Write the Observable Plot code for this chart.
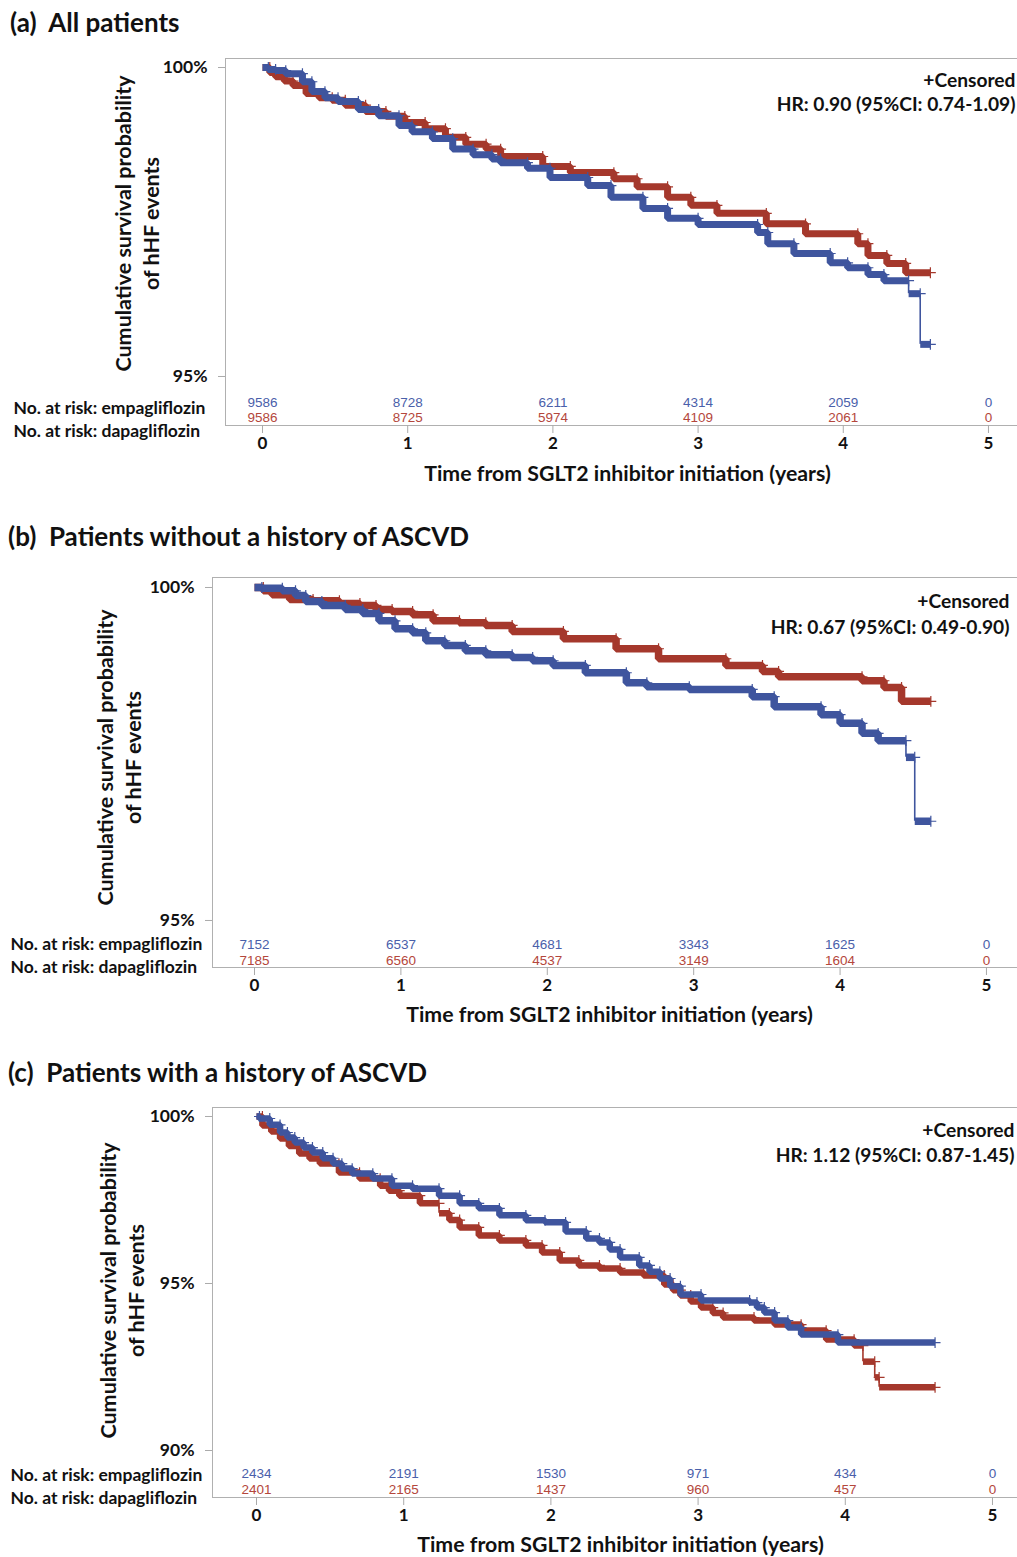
<!DOCTYPE html>
<html><head><meta charset="utf-8">
<script src="https://cdn.jsdelivr.net/npm/d3@7"></script>
<script src="https://cdn.jsdelivr.net/npm/@observablehq/plot@0.6"></script>
<style>
body{margin:0;background:#fff;width:1017px;font-family:Lato,"Open Sans",sans-serif;color:#111;}
.title{height:44px;line-height:44px;font-weight:700;font-size:26px;white-space:pre;}
svg{display:block;}
g[aria-label="x-axis tick"], g[aria-label="y-axis tick"]{stroke:#aaa;}
</style></head><body>
<div class="title" style="padding-left:10px">(a)  All patients</div><div id="a"></div>
<div class="title" style="padding-left:8px">(b)  Patients without a history of ASCVD</div><div id="b"></div>
<div class="title" style="padding-left:8px">(c)  Patients with a history of ASCVD</div><div id="c"></div>
<script>
// ---------- data ----------
const years = [0, 1, 2, 3, 4, 5];
const drugs = ["empagliflozin", "dapagliflozin"];
const yTicksA = [95, 100];
const yTicksB = [95, 100];
const yTicksC = [90, 95, 100];
const yTitle = "Cumulative survival probability\nof hHF events";
const xTitle = "Time from SGLT2 inhibitor initiation (years)";

// (a) All patients
const aEmpaT = [0, 0.04, 0.09, 0.16, 0.275, 0.34, 0.43, 0.52, 0.66, 0.80, 0.94, 1.03, 1.17, 1.31, 1.45, 1.58, 1.64, 1.825, 1.98, 2.24, 2.40, 2.62, 2.79, 3.00, 3.41, 3.48, 3.66, 3.91, 4.03, 4.17, 4.28, 4.45, 4.53, 4.60];
const aEmpaS = [100, 99.97, 99.95, 99.90, 99.77, 99.61, 99.51, 99.45, 99.32, 99.22, 99.06, 98.96, 98.85, 98.68, 98.59, 98.52, 98.46, 98.37, 98.22, 98.09, 97.90, 97.72, 97.56, 97.46, 97.33, 97.15, 96.99, 96.84, 96.76, 96.65, 96.55, 96.34, 95.52, 95.52];
const aDapaT = [0, 0.05, 0.09, 0.15, 0.21, 0.30, 0.39, 0.48, 0.57, 0.71, 0.85, 0.98, 1.12, 1.26, 1.40, 1.54, 1.64, 1.93, 2.12, 2.42, 2.58, 2.79, 2.95, 3.13, 3.47, 3.74, 4.10, 4.17, 4.30, 4.43, 4.60];
const aDapaS = [100, 99.92, 99.85, 99.78, 99.71, 99.58, 99.51, 99.47, 99.39, 99.29, 99.21, 99.11, 99.01, 98.87, 98.76, 98.68, 98.56, 98.40, 98.30, 98.20, 98.07, 97.90, 97.77, 97.64, 97.47, 97.31, 97.15, 96.96, 96.83, 96.68, 96.68];
const aRiskEmpa = [9586, 8728, 6211, 4314, 2059, 0];
const aRiskDapa = [9586, 8725, 5974, 4109, 2061, 0];
const aHR = "HR: 0.90 (95%CI: 0.74-1.09)";

// (b) Without ASCVD
const bEmpaT = [0, 0.05, 0.19, 0.28, 0.35, 0.46, 0.62, 0.74, 0.85, 0.96, 1.08, 1.17, 1.30, 1.44, 1.58, 1.76, 1.90, 2.04, 2.26, 2.54, 2.68, 2.97, 3.40, 3.55, 3.87, 4.00, 4.15, 4.26, 4.45, 4.51, 4.62];
const bEmpaS = [100, 99.99, 99.95, 99.88, 99.79, 99.73, 99.67, 99.61, 99.50, 99.38, 99.32, 99.20, 99.13, 99.05, 98.99, 98.95, 98.90, 98.83, 98.72, 98.57, 98.51, 98.47, 98.36, 98.21, 98.09, 97.96, 97.81, 97.70, 97.45, 96.49, 96.49];
const bDapaT = [0, 0.06, 0.12, 0.24, 0.40, 0.58, 0.72, 0.83, 0.94, 1.08, 1.22, 1.40, 1.58, 1.76, 2.11, 2.47, 2.76, 3.22, 3.47, 3.58, 4.15, 4.30, 4.42, 4.62];
const bDapaS = [100, 99.95, 99.89, 99.82, 99.80, 99.76, 99.73, 99.67, 99.64, 99.59, 99.50, 99.47, 99.43, 99.34, 99.23, 99.08, 98.93, 98.83, 98.74, 98.66, 98.60, 98.50, 98.29, 98.29];
const bRiskEmpa = [7152, 6537, 4681, 3343, 1625, 0];
const bRiskDapa = [7185, 6560, 4537, 3149, 1604, 0];
const bHR = "HR: 0.67 (95%CI: 0.49-0.90)";

// (c) With ASCVD
const cEmpaT = [0, 0.02, 0.09, 0.16, 0.21, 0.26, 0.32, 0.38, 0.45, 0.52, 0.58, 0.65, 0.79, 0.92, 1.06, 1.24, 1.38, 1.51, 1.65, 1.83, 1.96, 2.10, 2.24, 2.33, 2.40, 2.47, 2.60, 2.67, 2.74, 2.81, 2.88, 3.02, 3.35, 3.40, 3.45, 3.52, 3.61, 3.70, 3.95, 4.61];
const cEmpaS = [100, 99.94, 99.75, 99.52, 99.37, 99.22, 99.07, 98.92, 98.75, 98.59, 98.44, 98.29, 98.14, 97.93, 97.84, 97.63, 97.40, 97.25, 97.04, 96.89, 96.83, 96.56, 96.35, 96.23, 96.02, 95.78, 95.54, 95.35, 95.15, 94.92, 94.67, 94.49, 94.43, 94.28, 94.13, 93.89, 93.68, 93.47, 93.23, 93.23];
const cDapaT = [0, 0.04, 0.10, 0.16, 0.22, 0.29, 0.36, 0.43, 0.56, 0.70, 0.84, 0.90, 0.97, 1.11, 1.24, 1.31, 1.38, 1.51, 1.65, 1.83, 1.94, 2.06, 2.19, 2.33, 2.47, 2.63, 2.77, 2.83, 2.88, 2.95, 3.02, 3.10, 3.17, 3.38, 3.52, 3.70, 3.87, 4.06, 4.12, 4.20, 4.23, 4.61];
const cDapaS = [100, 99.73, 99.55, 99.34, 99.12, 98.89, 98.74, 98.59, 98.32, 98.14, 97.93, 97.78, 97.63, 97.40, 97.10, 96.90, 96.68, 96.44, 96.29, 96.14, 95.93, 95.69, 95.54, 95.45, 95.33, 95.24, 94.97, 94.80, 94.64, 94.46, 94.28, 94.12, 93.98, 93.89, 93.77, 93.59, 93.32, 93.14, 92.66, 92.19, 91.89, 91.89];
const cRiskEmpa = [2434, 2191, 1530, 971, 434, 0];
const cRiskDapa = [2401, 2165, 1437, 960, 457, 0];
const cHR = "HR: 1.12 (95%CI: 0.87-1.45)";

// ---------- drawing ----------
const BLUE = "#3F559E", RED = "#A5382C";
const BLUE_TXT = "#4A60AA", RED_TXT = "#B4473C";
const FONT = "Lato, 'Open Sans', sans-serif";
const NUM_FONT = "'Liberation Sans', Arial, sans-serif";

function panel(o) {
  const curve = (T, S, color) => {
    const pts = [], drops = [];
    let g = 0;
    T.forEach((t, i) => {
      if (i > 0 && S[i - 1] - S[i] > o.thr) {
        pts.push({t, s: S[i - 1], g});
        drops.push({t, s1: S[i - 1], s2: S[i]});
        g++;
      }
      pts.push({t, s: S[i], g});
    });
    const ends = T.slice(1).map((t, i) => ({t, s: S[i]}));
    return [
      Plot.line(pts, {x: "t", y: "s", z: "g", curve: "step-after", stroke: color, strokeWidth: o.band, strokeLinejoin: "miter", strokeLinecap: "butt"}),
      Plot.ruleX(drops, {x: "t", y1: "s1", y2: "s2", stroke: color, strokeWidth: 1.6}),
      Plot.dot(ends, {x: "t", y: "s", symbol: "plus", r: 3.6, stroke: color, strokeWidth: 1.2})
    ];
  };
  const frameH = o.frameBottom - o.mt;
  const bold = {fontWeight: "bold", fill: "#111"};
  return Plot.plot({
    width: 1017,
    height: o.height,
    marginLeft: o.ml,
    marginRight: 0,
    marginTop: o.mt,
    marginBottom: o.height - o.frameBottom,
    x: {domain: o.xd},
    y: {domain: o.yd},
    style: {fontFamily: FONT, background: "white", color: "#111"},
    marks: [
      Plot.frame({anchor: "top", stroke: "#b0b0b0"}),
      Plot.frame({anchor: "left", stroke: "#b0b0b0"}),
      Plot.frame({anchor: "bottom", stroke: "#b0b0b0"}),
      Plot.axisY(o.yTicks, {tickFormat: d => d + "%", tickSize: 7, tickPadding: 11, fontSize: 17.5, label: null, ...bold}),
      Plot.axisX(years, {tickFormat: d => String(d), tickSize: 8, tickPadding: 3, fontSize: 17, label: null, ...bold}),
      ...curve(o.dT, o.dS, RED),
      ...curve(o.eT, o.eS, BLUE),
      Plot.text(years, {x: d => d, text: (d, i) => String(o.riskE[i]), frameAnchor: "bottom", lineAnchor: "middle", dy: o.riskDy[0], fill: BLUE_TXT, fontSize: 13.5, fontFamily: NUM_FONT}),
      Plot.text(years, {x: d => d, text: (d, i) => String(o.riskD[i]), frameAnchor: "bottom", lineAnchor: "middle", dy: o.riskDy[1], fill: RED_TXT, fontSize: 13.5, fontFamily: NUM_FONT}),
      Plot.text(["No. at risk: " + drugs[0]], {frameAnchor: "bottom-left", textAnchor: "start", lineAnchor: "middle", dx: o.labX - o.ml, dy: o.labDy[0], fontSize: 17.5, ...bold}),
      Plot.text(["No. at risk: " + drugs[1]], {frameAnchor: "bottom-left", textAnchor: "start", lineAnchor: "middle", dx: o.labX - o.ml, dy: o.labDy[1], fontSize: 17.5, ...bold}),
      Plot.text([yTitle], {frameAnchor: "left", rotate: -90, dx: o.ytX - o.ml, dy: o.ytY - (o.mt + frameH / 2), fontSize: 21.5, lineHeight: 1.3, textAnchor: "middle", lineAnchor: "middle", ...bold}),
      Plot.text([xTitle], {frameAnchor: "bottom", dx: o.xtX - (o.ml + (1017 - o.ml) / 2), dy: o.xtDy, fontSize: 21.3, lineAnchor: "middle", ...bold}),
      Plot.text(["+Censored"], {frameAnchor: "top-right", textAnchor: "end", lineAnchor: "middle", dx: o.annDx, dy: o.annDy[0], fontSize: 19.2, ...bold}),
      Plot.text([o.hr], {frameAnchor: "top-right", textAnchor: "end", lineAnchor: "middle", dx: o.annDx, dy: o.annDy[1], fontSize: 19.2, ...bold})
    ]
  });
}

document.getElementById("a").append(panel({
  height: 470, mt: 14, frameBottom: 381, ml: 225,
  xd: [-0.255, 5.2], yd: [94.207, 100.146], yTicks: yTicksA, band: 7, thr: 0.2,
  eT: aEmpaT, eS: aEmpaS, dT: aDapaT, dS: aDapaS, riskE: aRiskEmpa, riskD: aRiskDapa, hr: aHR,
  riskDy: [-23, -8], labX: 13, labDy: [-17, 6], ytX: 136, ytY: 223 - 44, xtX: 627, xtDy: 49,
  annDx: -2, annDy: [22, 46]
}));
document.getElementById("b").append(panel({
  height: 492, mt: 19, frameBottom: 409, ml: 212,
  xd: [-0.287, 5.212], yd: [94.294, 100.15], yTicks: yTicksB, band: 7.5, thr: 0.22,
  eT: bEmpaT, eS: bEmpaS, dT: bDapaT, dS: bDapaS, riskE: bRiskEmpa, riskD: bRiskDapa, hr: bHR,
  riskDy: [-23, -7], labX: 10, labDy: [-23, 0], ytX: 118, ytY: 757 - 558, xtX: 609, xtDy: 48,
  annDx: -8, annDy: [24, 50]
}));
document.getElementById("c").append(panel({
  height: 463, mt: 13, frameBottom: 403, ml: 212,
  xd: [-0.299, 5.17], yd: [88.593, 100.269], yTicks: yTicksC, band: 6.5, thr: 0.29,
  eT: cEmpaT, eS: cEmpaS, dT: cDapaT, dS: cDapaS, riskE: cRiskEmpa, riskD: cRiskDapa, hr: cHR,
  riskDy: [-24, -8], labX: 10, labDy: [-22, 1], ytX: 121, ytY: 1290 - 1094, xtX: 620, xtDy: 48,
  annDx: -3, annDy: [23, 48]
}));
</script>
</body></html>
